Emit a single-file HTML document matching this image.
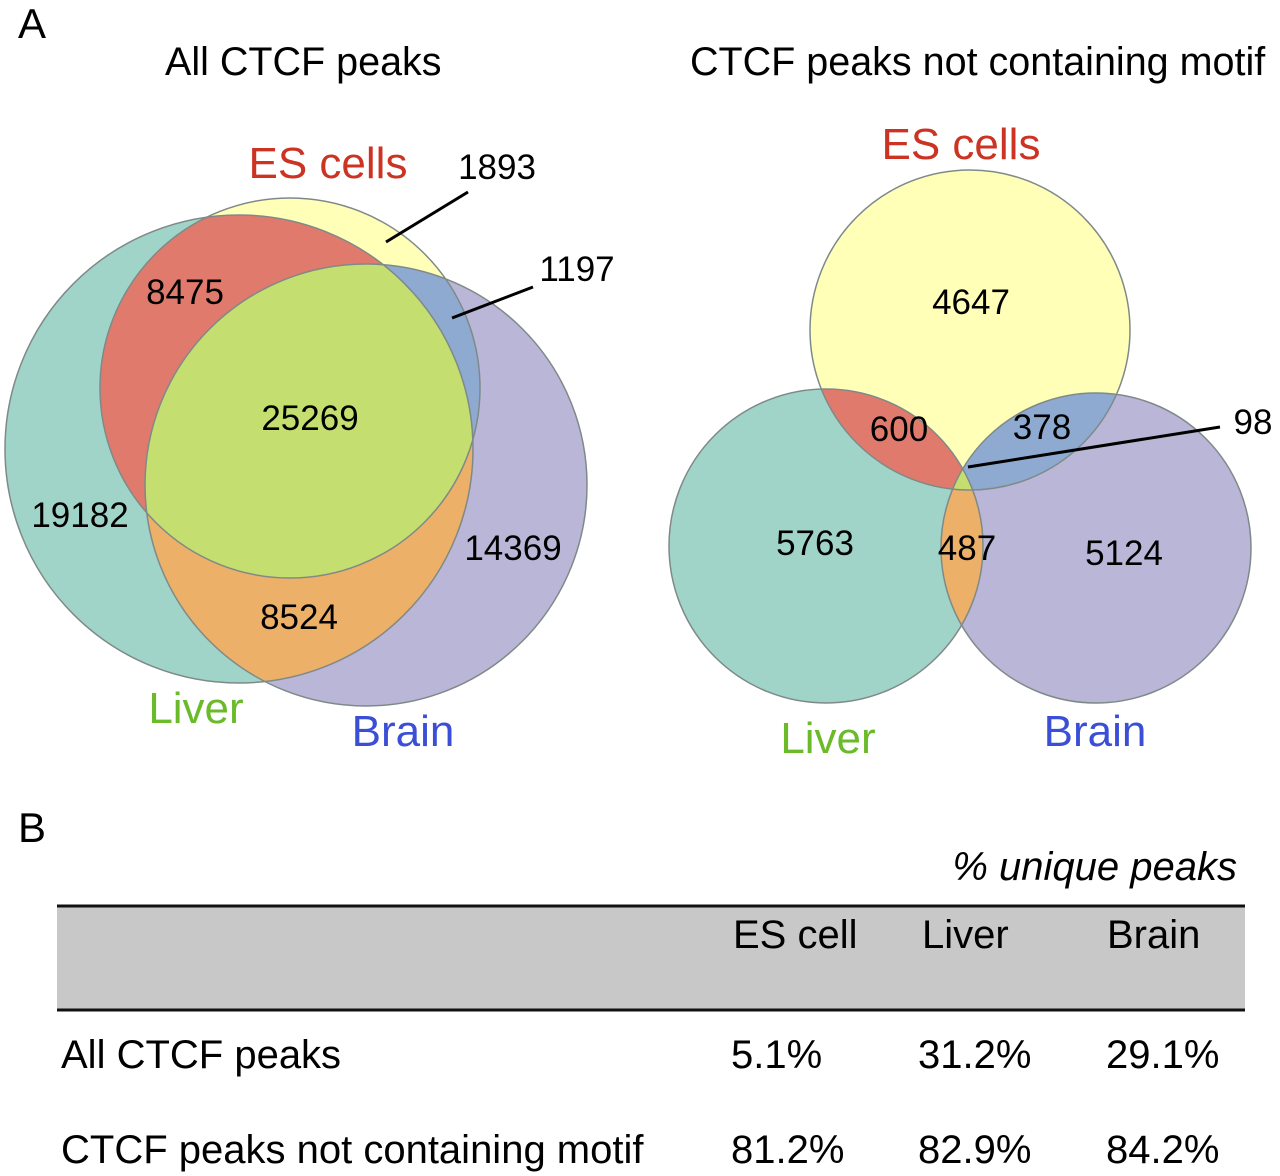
<!DOCTYPE html>
<html><head><meta charset="utf-8"><style>
body{margin:0;background:#fff;}
svg{display:block;font-family:"Liberation Sans",sans-serif;}
</style></head><body>
<svg width="1280" height="1176" viewBox="0 0 1280 1176">
<script>
const leftCounts=[19182,14369,8475,1893,1197,25269,8524];
const rightCounts=[4647,5763,5124,600,378,487,98];
const tableRows=["All CTCF peaks","CTCF peaks not containing motif"];
const esPct=["5.1%","81.2%"];
const liverPct=["31.2%","82.9%"];
const brainPct=["29.1%","84.2%"];
</script>
<defs>
<clipPath id="lES"><circle cx="290" cy="388" r="190"/></clipPath>
<clipPath id="lLiv"><circle cx="239" cy="449" r="234"/></clipPath>
<clipPath id="lBr"><circle cx="366" cy="485" r="221"/></clipPath>
<clipPath id="rES"><circle cx="970" cy="330" r="160"/></clipPath>
<clipPath id="rLiv"><circle cx="826" cy="546" r="157"/></clipPath>
<clipPath id="rBr"><circle cx="1096" cy="548" r="155"/></clipPath>
</defs>
<text x="18" y="38" font-size="42">A</text>
<text x="165" y="75" font-size="39.5">All CTCF peaks</text>
<text x="690" y="75" font-size="39.5">CTCF peaks not containing motif</text>

<g>
<circle cx="239" cy="449" r="234" fill="#a0d4c8"/>
<circle cx="366" cy="485" r="221" fill="#b9b6d8"/>
<circle cx="290" cy="388" r="190" fill="#ffffb8"/>
<g clip-path="url(#lES)"><circle cx="239" cy="449" r="234" fill="#e07a6c"/>
<circle cx="366" cy="485" r="221" fill="#8eaad0"/></g>
<g clip-path="url(#lLiv)"><circle cx="366" cy="485" r="221" fill="#ecb068"/></g>
<g clip-path="url(#lLiv)"><g clip-path="url(#lES)"><circle cx="366" cy="485" r="221" fill="#c4de70"/></g></g>
<g fill="none" stroke="#7f8a88" stroke-width="1.5"><circle cx="239" cy="449" r="234"/><circle cx="366" cy="485" r="221"/><circle cx="290" cy="388" r="190"/></g>
<line x1="386" y1="242" x2="468" y2="192" stroke="#000" stroke-width="3"/>
<line x1="452" y1="318" x2="533" y2="287" stroke="#000" stroke-width="3"/>
<g font-size="35" text-anchor="middle">
<text x="80" y="527">19182</text>
<text x="513" y="560">14369</text>
<text x="185" y="304">8475</text>
<text x="497" y="179">1893</text>
<text x="577" y="281">1197</text>
<text x="310" y="430">25269</text>
<text x="299" y="629">8524</text>
</g>
<text x="328" y="178" font-size="44" fill="#cc3322" text-anchor="middle">ES cells</text>
<text x="196" y="723" font-size="44" fill="#6aba2a" text-anchor="middle">Liver</text>
<text x="403" y="746" font-size="44" fill="#3a4fd6" text-anchor="middle">Brain</text>
</g>

<g>
<circle cx="826" cy="546" r="157" fill="#a0d4c8"/>
<circle cx="1096" cy="548" r="155" fill="#b9b6d8"/>
<circle cx="970" cy="330" r="160" fill="#ffffb8"/>
<g clip-path="url(#rES)"><circle cx="826" cy="546" r="157" fill="#e07a6c"/><circle cx="1096" cy="548" r="155" fill="#8eaad0"/></g>
<g clip-path="url(#rLiv)"><circle cx="1096" cy="548" r="155" fill="#ecb068"/></g>
<g clip-path="url(#rLiv)"><g clip-path="url(#rES)"><circle cx="1096" cy="548" r="155" fill="#c4de70"/></g></g>
<g fill="none" stroke="#7f8a88" stroke-width="1.5"><circle cx="826" cy="546" r="157"/><circle cx="1096" cy="548" r="155"/><circle cx="970" cy="330" r="160"/></g>
<line x1="968" y1="467" x2="1220" y2="427" stroke="#000" stroke-width="3"/>
<g font-size="35" text-anchor="middle">
<text x="971" y="314">4647</text>
<text x="815" y="555">5763</text>
<text x="1124" y="565">5124</text>
<text x="899" y="441">600</text>
<text x="1042" y="439">378</text>
<text x="967" y="560">487</text>
<text x="1253" y="434">98</text>
</g>
<text x="961" y="159" font-size="44" fill="#cc3322" text-anchor="middle">ES cells</text>
<text x="828" y="753" font-size="44" fill="#6aba2a" text-anchor="middle">Liver</text>
<text x="1095" y="746" font-size="44" fill="#3a4fd6" text-anchor="middle">Brain</text>
</g>

<text x="18" y="842" font-size="42">B</text>
<text x="1237" y="880" font-size="40" font-style="italic" text-anchor="end">% unique peaks</text>
<rect x="57" y="906" width="1188" height="104" fill="#c8c8c9"/>
<line x1="57" y1="906" x2="1245" y2="906" stroke="#111" stroke-width="3"/>
<line x1="57" y1="1010" x2="1245" y2="1010" stroke="#111" stroke-width="3"/>
<g font-size="40">
<text x="733" y="948">ES cell</text>
<text x="922" y="948">Liver</text>
<text x="1107" y="948">Brain</text>
<text x="61" y="1068">All CTCF peaks</text>
<text x="731" y="1068">5.1%</text>
<text x="918" y="1068">31.2%</text>
<text x="1106" y="1068">29.1%</text>
<text x="61" y="1163">CTCF peaks not containing motif</text>
<text x="731" y="1163">81.2%</text>
<text x="918" y="1163">82.9%</text>
<text x="1106" y="1163">84.2%</text>
</g>
</svg>
</body></html>
